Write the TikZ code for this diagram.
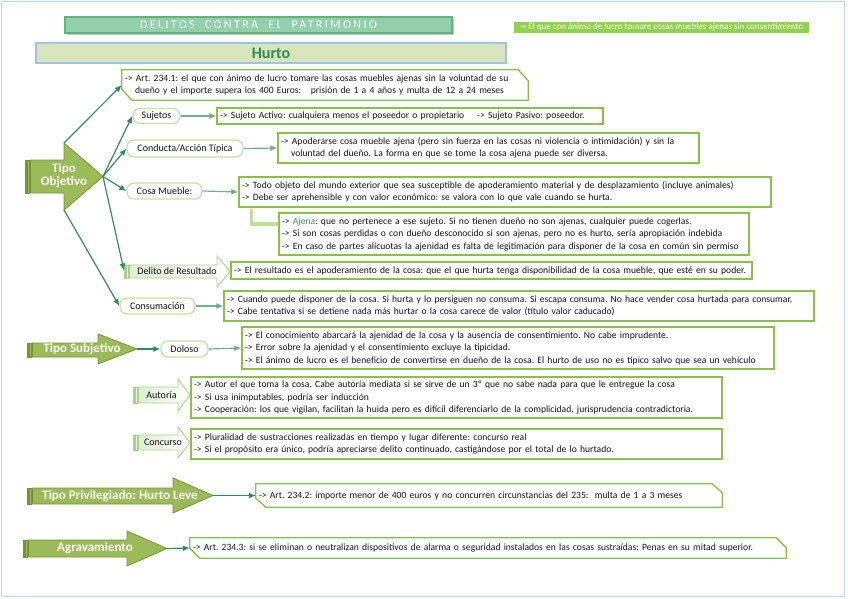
\documentclass[tikz,border=0pt]{standalone}
\usepackage{fontspec}
\setmainfont{Carlito}
\newfontfamily\dejavu{DejaVu Sans}
\newfontfamily\spacedfont{Carlito}[LetterSpace=20]
\usetikzlibrary{arrows.meta,calc,shadows}
\frenchspacing
\definecolor{frameblue}{RGB}{189,215,238}
\definecolor{titlefill}{RGB}{146,208,172}
\definecolor{titledraw}{RGB}{96,180,120}
\definecolor{hurtofill}{RGB}{216,228,188}
\definecolor{hurtodraw}{RGB}{157,195,230}
\definecolor{hurtotext}{RGB}{46,139,87}
\definecolor{bannerfill}{RGB}{146,208,80}
\definecolor{bigfill}{RGB}{155,187,89}
\definecolor{bigdraw}{RGB}{118,146,60}
\definecolor{smallfill}{RGB}{222,238,212}
\definecolor{smalldraw}{RGB}{169,209,142}
\definecolor{capgreen}{RGB}{197,224,170}
\definecolor{boxgreen}{RGB}{140,190,75}
\definecolor{darkline}{RGB}{50,140,90}
\definecolor{lightline}{RGB}{120,170,140}
\definecolor{textdark}{RGB}{20,20,20}
\definecolor{ajenagreen}{RGB}{60,150,100}
\definecolor{bracketgreen}{RGB}{192,222,150}
\tikzset{
  txt/.style={font=\fontsize{9.6}{12.5}\selectfont, text=textdark, align=left, inner xsep=3pt, inner ysep=0pt},
  tbox/.style={txt, draw=boxgreen, line width=1.3pt, fill=white},
  cbox/.style={txt, draw=none},
  cbline/.style={draw=boxgreen, line width=1.3pt},
  capsule/.style={draw=capgreen, line width=1.3pt, fill=white, rounded corners=7pt, font=\fontsize{10}{12}\selectfont, text=textdark, inner sep=0pt},
  bigshape/.style={fill=bigfill, draw=bigdraw, line width=0.8pt},
  smallshape/.style={left color=smallfill, right color=white, draw=smalldraw, line width=0.8pt},
  bigtxt/.style={font=\bfseries\fontsize{13}{14}\selectfont, text=white, align=center, inner sep=0pt},
  smalltxt/.style={font=\fontsize{10}{12}\selectfont, text=textdark, inner sep=0pt},
  darkarr/.style={draw=darkline, line width=1.2pt, -{Latex[length=7pt,width=6pt]}},
  lightarr/.style={draw=lightline, line width=1.2pt, -{Latex[length=7pt,width=6pt]}},
  titlebox/.style={fill=titlefill, draw=titledraw, line width=1.3pt, text=white, drop shadow={shadow xshift=2pt, shadow yshift=-2pt, fill=black!45}},
}
\newcommand\lineof[1]{\mbox{#1}}
% striped block arrow: name, x0, ytop, ybot, xhead, yheadtop, yheadbot, xtip, style
\newcommand\stripearrow[9]{%
  \draw[#9] (#2,#3) rectangle ({#2+1.6},#4);
  \draw[#9] ({#2+2.6},#3) rectangle ({#2+4.2},#4);
  \draw[#9] ({#2+5.4},#3) -- (#5,#3) -- (#5,#6) -- (#8,{(#6+#7)/2}) -- (#5,#7) -- (#5,#4) -- ({#2+5.4},#4) -- cycle;
  \coordinate (#1-tip) at (#8,{(#6+#7)/2});
  \coordinate (#1-ht) at (#5,#6);
  \coordinate (#1-hb) at (#5,#7);
  \coordinate (#1-w) at (#2,{(#3+#4)/2});
}
% chamfered outline around a named node: name, dx, dy
\newcommand\chamf[3]{%
  \draw[cbline] (#1.north west) -- ($(#1.north east)+(-#2,0)$) -- ($(#1.north east)+(0,#3)$) -- (#1.south east) -- ($(#1.south west)+(#2,0)$) -- ($(#1.south west)+(0,-#3)$) -- cycle;
}
\begin{document}
\begin{tikzpicture}[x=1pt,y=-1pt]
\useasboundingbox (0,0) rectangle (848,599);
\draw[frameblue, line width=1.5pt] (1.5,1.5) rectangle (844.5,596.5);

% headers
\node[titlebox, minimum width=387pt, minimum height=16pt, inner sep=0pt] (title) at (258.5,25)
  {\spacedfont\fontsize{12}{14}\selectfont DELITOS\hspace{5pt} CONTRA\hspace{5pt} EL\hspace{5pt} PATRIMONIO};
\node[draw=hurtodraw, fill=hurtofill, line width=1.2pt, minimum width=470pt, minimum height=20pt, inner sep=0pt,
  font=\bfseries\fontsize{16}{18}\selectfont, text=hurtotext] (hurto) at (271,53) {Hurto};
\node[fill=bannerfill, minimum width=295pt, minimum height=11pt, inner sep=0pt, text=white,
  font=\fontsize{9}{10}\selectfont] (banner) at (661.5,27.5)
  {{\dejavu\fontsize{8}{10}\selectfont →} El que con ánimo de lucro tomare cosas muebles ajenas sin consentimiento};

% Art 234.1
\node[cbox, minimum width=406pt, minimum height=30pt, text width=400pt] (art1) at (325,85)
  {\lineof{-> Art. 234.1: el que con ánimo de lucro tomare las cosas muebles ajenas sin la voluntad de su}\\
   \lineof{\hspace*{10pt}dueño y el importe supera los 400 Euros: \ \ prisión de 1 a 4 años y multa de 12 a 24 meses}};
\chamf{art1}{10}{11}

% Tipo Objetivo
\stripearrow{tobj}{25}{160}{193}{64}{143}{210}{103}{bigshape}
\node[bigtxt] (tobjtxt) at (64,176) {Tipo\\[-1pt]Objetivo};

% Sujetos
\node[capsule, minimum width=47pt, minimum height=15pt] (suj) at (156.5,116) {Sujetos};
\node[tbox, minimum width=386pt, minimum height=16pt, text width=380pt] (sujbox) at (410,116)
  {\lineof{-> Sujeto Activo: cualquiera menos el poseedor o propietario \ \ \ -> Sujeto Pasivo: poseedor.}};

% Conducta
\node[capsule, minimum width=116pt, minimum height=17pt] (cond) at (185,148.5) {Conducta/Acción Típica};
\node[tbox, minimum width=421pt, minimum height=30pt, text width=415pt] (condbox) at (488.5,148)
  {\lineof{-> Apoderarse cosa mueble ajena (pero sin fuerza en las cosas ni violencia o intimidación) y sin la}\\
   \lineof{\hspace*{10pt}voluntad del dueño. La forma en que se tome la cosa ajena puede ser diversa.}};

% Cosa mueble
\node[capsule, minimum width=75pt, minimum height=16pt] (cosa) at (164.5,191) {Cosa Mueble:};
\node[tbox, minimum width=532pt, minimum height=30pt, text width=526pt] (cosabox) at (505,192)
  {\lineof{-> Todo objeto del mundo exterior que sea susceptible de apoderamiento material y de desplazamiento (incluye animales)}\\
   \lineof{-> Debe ser aprehensible y con valor económico: se valora con lo que vale cuando se hurta.}};
\node[tbox, minimum width=470pt, minimum height=42pt, text width=464pt] (ajenabox) at (514,234)
  {\lineof{-> {\color{ajenagreen}Ajena}: que no pertenece a ese sujeto. Si no tienen dueño no son ajenas, cualquier puede cogerlas.}\\
   \lineof{-> Si son cosas perdidas o con dueño desconocido si son ajenas, pero no es hurto, sería apropiación indebida}\\
   \lineof{-> En caso de partes alícuotas la ajenidad es falta de legitimación para disponer de la cosa en común sin permiso}};
\draw[bracketgreen, line width=3.5pt] ($(cosabox.south west)+(13,1)$) |- ($(ajenabox.west)+(0,-10)$);

% Delito de resultado
\stripearrow{del}{124}{265}{278}{217}{256}{287}{230}{smallshape}
\node[smalltxt] (deltxt) at (177,271.5) {Delito de Resultado};
\node[tbox, minimum width=521pt, minimum height=17pt, text width=515pt] (delbox) at (491.5,270.5)
  {\lineof{-> El resultado es el apoderamiento de la cosa: que el que hurta tenga disponibilidad de la cosa mueble, que esté en su poder.}};

% Consumacion
\node[capsule, minimum width=75pt, minimum height=16pt] (cons) at (157.5,306) {Consumación};
\node[tbox, minimum width=590pt, minimum height=30pt, text width=584pt] (consbox) at (519,306)
  {\lineof{-> Cuando puede disponer de la cosa. Si hurta y lo persiguen no consuma. Si escapa consuma. No hace vender cosa hurtada para consumar.}\\
   \lineof{-> Cabe tentativa si se detiene nada más hurtar o la cosa carece de valor (título valor caducado)}};

% Tipo subjetivo
\stripearrow{tsub}{27}{343}{357}{98}{334}{364}{137}{bigshape}
\node[bigtxt] (tsubtxt) at (82,349) {Tipo Subjetivo};
\node[capsule, minimum width=47pt, minimum height=16pt] (dol) at (184.5,349) {Doloso};
\node[tbox, minimum width=532pt, minimum height=42pt, text width=526pt] (dolbox) at (508,348)
  {\lineof{-> El conocimiento abarcará la ajenidad de la cosa y la ausencia de consentimiento. No cabe imprudente.}\\
   \lineof{-> Error sobre la ajenidad y el consentimiento excluye la tipicidad.}\\
   \lineof{-> El ánimo de lucro es el beneficio de convertirse en dueño de la cosa. El hurto de uso no es típico salvo que sea un vehículo}};

% Autoria
\stripearrow{aut}{133}{387}{403}{178}{379}{411}{190}{smallshape}
\node[smalltxt] (auttxt) at (161.5,395) {Autoría};
\node[tbox, minimum width=531pt, minimum height=41pt, text width=525pt] (autbox) at (456.5,397.5)
  {\lineof{-> Autor el que toma la cosa. Cabe autoría mediata si se sirve de un 3º que no sabe nada para que le entregue la cosa}\\
   \lineof{-> Si usa inimputables, podría ser inducción}\\
   \lineof{-> Cooperación: los que vigilan, facilitan la huida pero es difícil diferenciarlo de la complicidad, jurisprudencia contradictoria.}};

% Concurso
\stripearrow{conc}{133}{435}{450}{178}{427}{458}{190}{smallshape}
\node[smalltxt] (conctxt) at (163,442.5) {Concurso};
\node[tbox, minimum width=531pt, minimum height=30pt, text width=525pt] (concbox) at (456.5,444)
  {\lineof{-> Pluralidad de sustracciones realizadas en tiempo y lugar diferente: concurso real}\\
   \lineof{-> Si el propósito era único, podría apreciarse delito continuado, castigándose por el total de lo hurtado.}};

% Tipo privilegiado
\stripearrow{tpriv}{27}{488}{504}{173}{478}{513}{213}{bigshape}
\node[bigtxt] (tprivtxt) at (120,496) {Tipo Privilegiado: Hurto Leve};
\node[cbox, minimum width=466pt, minimum height=23pt, text width=460pt] (art2) at (489,495.5)
  {\lineof{-> Art. 234.2: importe menor de 400 euros y no concurren circunstancias del 235: \ multa de 1 a 3 meses}};
\chamf{art2}{10}{9}

% Agravamiento
\stripearrow{agr}{23}{540}{557}{127}{531}{566}{167}{bigshape}
\node[bigtxt] (agrtxt) at (95,548) {Agravamiento};
\node[cbox, minimum width=596pt, minimum height=20pt, text width=590pt] (art3) at (488,548)
  {\lineof{-> Art. 234.3: si se eliminan o neutralizan dispositivos de alarma o seguridad instalados en las cosas sustraídas: Penas en su mitad superior.}};
\chamf{art3}{10}{10}

% connectors
\draw[darkarr] (tobj-ht) -- (art1.west);
\draw[darkarr] (tobj-tip) -- (suj.west);
\draw[darkarr] (tobj-tip) -- (cond.west);
\draw[darkarr] (tobj-tip) -- (cosa.west);
\draw[darkarr] (tobj-tip) -- ($(del-w)+(0,-1)$);
\draw[darkarr] (tobj-hb) -- (cons.west);
\draw[darkarr] (tsub-tip) -- (dol.west);
\draw[darkarr] (tpriv-tip) -- (art2.west);
\draw[darkarr] (agr-tip) -- (art3.west);
\draw[lightarr] (suj.east) -- (sujbox.west);
\draw[lightarr] (cond.east) -- (condbox.west);
\draw[lightarr] (cosa.east) -- (cosabox.west);
\draw[lightarr] (cons.east) -- (consbox.west);
\draw[lightarr] (dol.east) -- (dolbox.west);
\end{tikzpicture}
\end{document}
